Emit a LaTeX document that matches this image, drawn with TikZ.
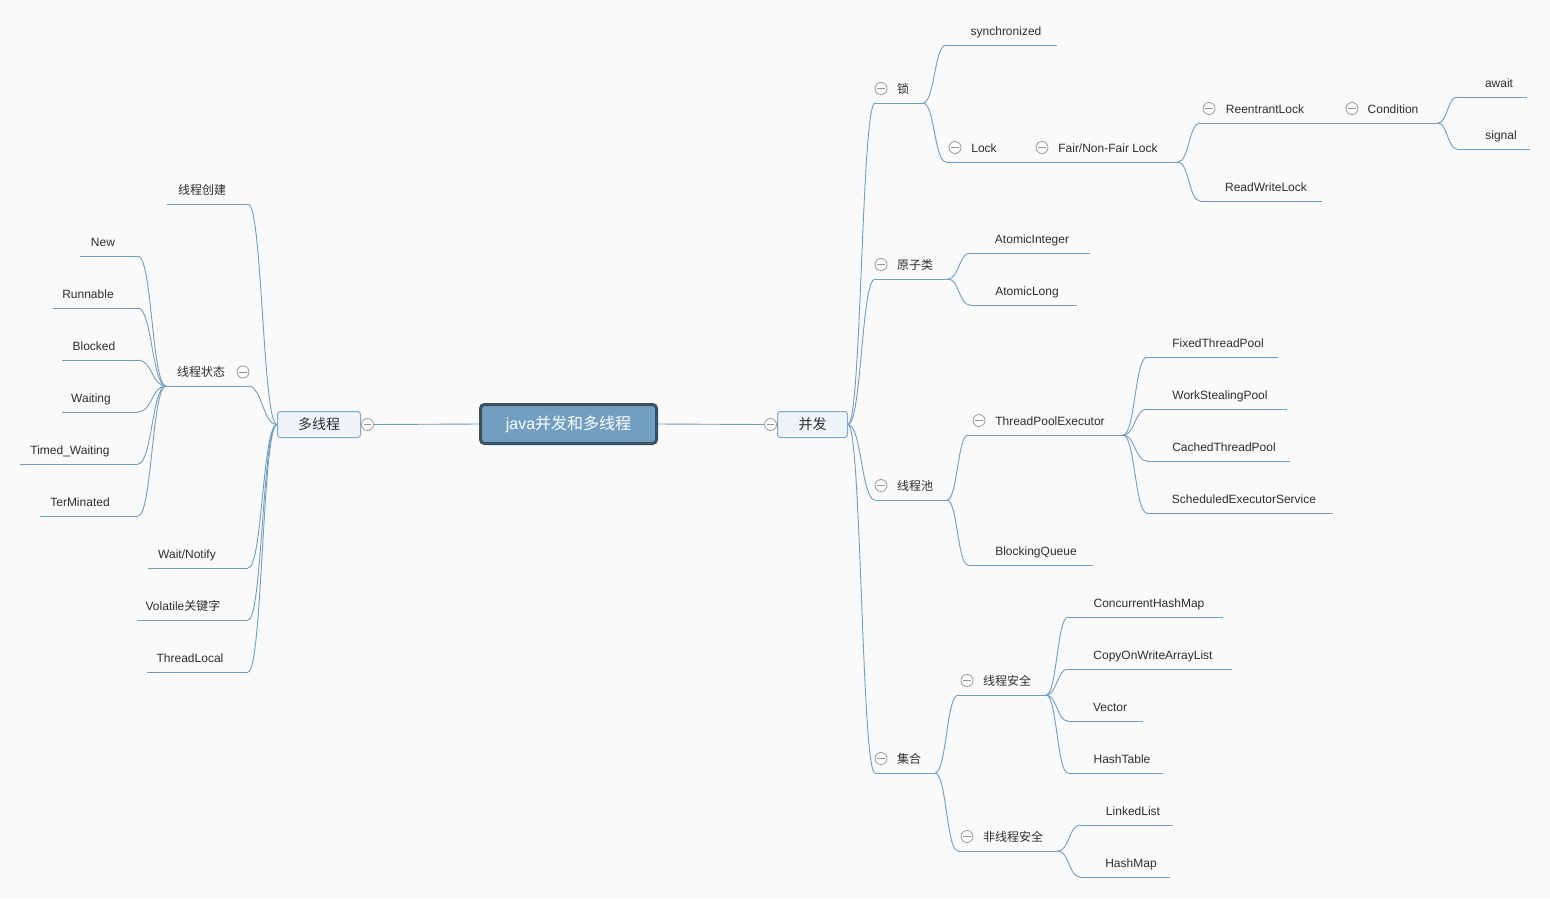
\documentclass[tikz,border=0pt]{standalone}
\usepackage{fontspec}
\setmainfont{Liberation Sans}
\newfontfamily\cjk{Noto Sans CJK SC}
\usetikzlibrary{calc}

\definecolor{bg}{RGB}{250,250,250}
\definecolor{wire}{RGB}{112,157,196}
\definecolor{ink}{RGB}{45,45,45}
\definecolor{rootfill}{RGB}{114,159,193}
\definecolor{rootdraw}{RGB}{58,80,99}
\definecolor{mainfill}{RGB}{238,243,248}
\definecolor{maindraw}{RGB}{128,166,201}
\definecolor{foldgray}{RGB}{150,150,150}

\tikzset{
  wireline/.style={draw=wire, line width=0.9pt},
  topictext/.style={text=ink, font=\fontsize{12}{14}\selectfont, inner sep=0pt, anchor=base},
  foldmark/.style={circle, draw=foldgray, fill=white, line width=0.8pt,
    minimum size=12pt, inner sep=0pt,
    path picture={\draw[foldgray, line width=0.8pt]
      ([xshift=2.2pt]path picture bounding box.west) --
      ([xshift=-2.2pt]path picture bounding box.east);}},
  rootbox/.style={draw=rootdraw, fill=rootfill, line width=3pt, rounded corners=4pt,
    minimum width=176pt, minimum height=39pt, inner sep=0pt, text=white,
    font=\fontsize{16}{18}\selectfont},
  mainbox/.style={draw=maindraw, fill=mainfill, line width=1pt, rounded corners=3pt,
    minimum height=26pt, inner sep=0pt, text=ink, font=\fontsize{14}{16}\selectfont},
}

% topic: name, underline start x, underline end x, underline y, text centre x, text
\newcommand\mmtopic[6]{%
  \coordinate (#1S) at (#2,#4);
  \coordinate (#1E) at (#3,#4);
  \node[topictext] (#1) at (#5,#4-10) {#6};
  \draw[wireline] (#1S) -- (#1E);
}
% curved branch between two points
\newcommand\mmlink[2]{%
  \path ($(#1)!0.5!(#2)$) coordinate (mm);
  \draw[wireline] (#1) .. controls (#1 -| mm) and (#2 -| mm) .. (#2);
}

\begin{document}
\begin{tikzpicture}[x=1pt, y=-1pt]
\fill[bg] (0,0) rectangle (1550,898);
\useasboundingbox (0,0) rectangle (1550,898);

% central topic and the two main branches
\node[rootbox] (root) at (568.5,424) {java{\cjk 并发和多线程}};
\node[mainbox, minimum width=83pt] (multi) at (319,424.5) {\cjk 多线程};
\node[mainbox, minimum width=70pt] (conc) at (812.5,424.5) {\cjk 并发};
\node[foldmark] (multiF) at (367.5,424.5) {};
\node[foldmark] (concF) at (770.5,424.5) {};
\draw[wireline] (root.west) -- (multiF.east);
\draw[wireline] (root.east) -- (concF.west);
\coordinate (multiJ) at (multi.west);
\coordinate (concJ) at (conc.east);

% ---------------- left: multithreading ----------------
\mmtopic{create}{167}{248}{204}{202}{\cjk 线程创建}
\mmtopic{state}{166}{248}{386}{201}{\cjk 线程状态}
\node[foldmark] (stateF) at (243,372) {};
\mmtopic{waitn}{148}{248}{568}{187}{Wait/Notify}
\mmtopic{volat}{137}{248}{620}{183}{Volatile{\cjk 关键字}}
\mmtopic{tlocal}{147}{248}{672}{190}{ThreadLocal}
\foreach \t in {create,state,waitn,volat,tlocal}{\mmlink{multiJ}{\t E}}

\mmtopic{snew}{80}{138}{256}{103}{New}
\mmtopic{srun}{53}{138}{308}{88}{Runnable}
\mmtopic{sblk}{62}{138}{360}{94}{Blocked}
\mmtopic{swait}{62}{138}{412}{91}{Waiting}
\mmtopic{stwait}{20}{138}{464}{70}{Timed\_Waiting}
\mmtopic{sterm}{40}{138}{516}{80}{TerMinated}
\foreach \t in {snew,srun,sblk,swait,stwait,sterm}{\mmlink{stateS}{\t E}}

% ---------------- right: concurrency ----------------
\mmtopic{lock}{875}{923}{103}{903}{\cjk 锁}
\node[foldmark] (lockF) at (881,88.5) {};
\mmtopic{atomic}{875}{948}{279}{915}{\cjk 原子类}
\node[foldmark] (atomicF) at (881,264.5) {};
\mmtopic{pool}{875}{947}{500}{915}{\cjk 线程池}
\node[foldmark] (poolF) at (881,485.5) {};
\mmtopic{coll}{875}{935}{773}{909}{\cjk 集合}
\node[foldmark] (collF) at (881,758.5) {};
\foreach \t in {lock,atomic,pool,coll}{\mmlink{concJ}{\t S}}

% locks
\mmtopic{sync}{946}{1057}{45}{1006}{synchronized}
\mmtopic{lk}{946}{1030}{162}{984}{Lock}
\node[foldmark] (lkF) at (955,147.5) {};
\mmtopic{fair}{1030}{1178}{162}{1108}{Fair/Non-Fair Lock}
\node[foldmark] (fairF) at (1042,147.5) {};
\mmlink{lockE}{syncS}
\mmlink{lockE}{lkS}
\mmtopic{reent}{1200}{1340}{123}{1265}{ReentrantLock}
\node[foldmark] (reentF) at (1209,108.5) {};
\mmtopic{cond}{1340}{1438}{123}{1393}{Condition}
\node[foldmark] (condF) at (1352,108.5) {};
\mmtopic{rwl}{1200}{1322}{201}{1266}{ReadWriteLock}
\mmlink{fairE}{reentS}
\mmlink{fairE}{rwlS}
\mmtopic{await}{1457}{1527}{97}{1499}{await}
\mmtopic{signal}{1457}{1530}{149}{1501}{signal}
\mmlink{condE}{awaitS}
\mmlink{condE}{signalS}

% atomic classes
\mmtopic{aint}{970}{1090}{253}{1032}{AtomicInteger}
\mmtopic{along}{970}{1077}{305}{1027}{AtomicLong}
\mmlink{atomicE}{aintS}
\mmlink{atomicE}{alongS}

% thread pools
\mmtopic{tpe}{968}{1123}{435}{1050}{ThreadPoolExecutor}
\node[foldmark] (tpeF) at (979,420.5) {};
\mmtopic{bq}{968}{1093}{565}{1036}{BlockingQueue}
\mmlink{poolE}{tpeS}
\mmlink{poolE}{bqS}
\mmtopic{fixed}{1147}{1278}{357}{1218}{FixedThreadPool}
\mmtopic{steal}{1147}{1287}{409}{1220}{WorkStealingPool}
\mmtopic{cached}{1147}{1290}{461}{1224}{CachedThreadPool}
\mmtopic{sched}{1147}{1333}{513}{1244}{ScheduledExecutorService}
\foreach \t in {fixed,steal,cached,sched}{\mmlink{tpeE}{\t S}}

% collections
\mmtopic{safe}{958}{1046}{695}{1007}{\cjk 线程安全}
\node[foldmark] (safeF) at (967,680.5) {};
\mmtopic{unsafe}{958}{1058}{851}{1013}{\cjk 非线程安全}
\node[foldmark] (unsafeF) at (967,836.5) {};
\mmlink{collE}{safeS}
\mmlink{collE}{unsafeS}
\mmtopic{chm}{1068}{1223}{617}{1149}{ConcurrentHashMap}
\mmtopic{cow}{1068}{1232}{669}{1153}{CopyOnWriteArrayList}
\mmtopic{vec}{1068}{1143}{721}{1110}{Vector}
\mmtopic{htab}{1068}{1163}{773}{1122}{HashTable}
\foreach \t in {chm,cow,vec,htab}{\mmlink{safeE}{\t S}}
\mmtopic{llist}{1080}{1173}{825}{1133}{LinkedList}
\mmtopic{hmap}{1080}{1170}{877}{1131}{HashMap}
\mmlink{unsafeE}{llistS}
\mmlink{unsafeE}{hmapS}
\end{tikzpicture}
\end{document}
